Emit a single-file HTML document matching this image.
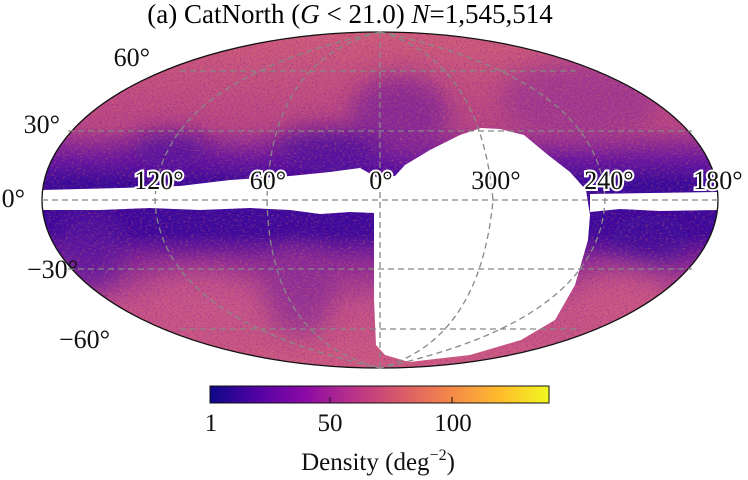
<!DOCTYPE html>
<html><head><meta charset="utf-8"><style>
html,body{margin:0;padding:0;background:#fff;}
svg{display:block;font-family:"Liberation Serif",serif;}
</style></head><body>
<svg width="748" height="480" viewBox="0 0 748 480" xmlns="http://www.w3.org/2000/svg">
<defs>
<clipPath id="ec"><ellipse cx="380" cy="200" rx="338" ry="168"/></clipPath>
<linearGradient id="vg" x1="0" y1="32" x2="0" y2="368" gradientUnits="userSpaceOnUse">
<stop offset="0" stop-color="#cf5c7c"/>
<stop offset="0.28" stop-color="#b84686"/>
<stop offset="0.38" stop-color="#6a18a0"/>
<stop offset="0.45" stop-color="#3a0a9a"/>
<stop offset="0.6" stop-color="#3f0a9c"/>
<stop offset="0.68" stop-color="#8a2a96"/>
<stop offset="0.82" stop-color="#c2518a"/>
<stop offset="1" stop-color="#cd5a82"/>
</linearGradient>
<linearGradient id="cb" x1="0" x2="1" y1="0" y2="0">
<stop offset="0" stop-color="#0d0887"/>
<stop offset="0.14" stop-color="#5302a3"/>
<stop offset="0.28" stop-color="#8b0aa5"/>
<stop offset="0.42" stop-color="#b83289"/>
<stop offset="0.57" stop-color="#db5c68"/>
<stop offset="0.71" stop-color="#f48849"/>
<stop offset="0.86" stop-color="#febd2a"/>
<stop offset="1" stop-color="#f0f921"/>
</linearGradient>
<filter id="nz" x="0" y="0" width="100%" height="100%" color-interpolation-filters="sRGB">
<feTurbulence type="fractalNoise" baseFrequency="0.35 0.6" numOctaves="2" seed="3"/>
<feColorMatrix type="matrix" values="0 0 0 0 0.96  0 0 0 0 0.45  0 0 0 0 0.35  2.5 0 0 0 -1.3"/>
</filter>
<filter id="nz2" x="0" y="0" width="100%" height="100%" color-interpolation-filters="sRGB">
<feTurbulence type="fractalNoise" baseFrequency="0.5 0.7" numOctaves="1" seed="9"/>
<feColorMatrix type="matrix" values="0 0 0 0 0.25  0 0 0 0 0.03  0 0 0 0 0.6  2.5 0 0 0 -1.3"/>
</filter>
<filter id="bl"><feGaussianBlur stdDeviation="12"/></filter>
</defs>

<text x="350" y="23" font-size="27" text-anchor="middle">(a) CatNorth (<tspan font-style="italic">G</tspan> &lt; 21.0)  <tspan font-style="italic">N</tspan>=1,545,514</text>

<g clip-path="url(#ec)">
<rect x="40" y="30" width="680" height="340" fill="url(#vg)"/>
<g filter="url(#bl)" opacity="0.75">
<ellipse cx="400" cy="115" rx="50" ry="40" fill="#7a2099"/>
<ellipse cx="580" cy="100" rx="80" ry="40" fill="#9a3593"/>
<ellipse cx="330" cy="150" rx="55" ry="22" fill="#4a0d9e"/>
<ellipse cx="170" cy="150" rx="40" ry="18" fill="#4e0f9e"/>
<ellipse cx="650" cy="240" rx="40" ry="25" fill="#3f0a9c"/>
<ellipse cx="90" cy="250" rx="35" ry="40" fill="#5a15a0"/>
<ellipse cx="300" cy="290" rx="35" ry="45" fill="#8a2d96"/>
<ellipse cx="200" cy="300" rx="60" ry="30" fill="#c9588a"/>
<ellipse cx="620" cy="300" rx="50" ry="30" fill="#cc5a86"/>
</g>
<rect x="40" y="30" width="680" height="340" filter="url(#nz)" opacity="0.45"/>
<rect x="40" y="30" width="680" height="340" filter="url(#nz2)" opacity="0.4"/>
<path d="M42 190 L120 188 L180 186 L230 180 L290 176 L330 172 L360 168 L378 178 L395 176 L405 165 L430 150 L460 135 L481 128 L500 129 L524 135 L548 155 L570 172 L586 190 L590 215 L588 240 L575 285 L555 320 L521 340 L470 355 L409 362 L385 355 L376 345 L374 300 L374 213 L350 212 L320 214 L290 210 L250 208 L200 210 L150 208 L100 210 L42 210 Z" fill="#fff"/>
<path d="M590 194 L718 192 L718 210 L660 211 L620 209 L590 212 Z" fill="#fff"/>
</g>
<ellipse cx="380" cy="200" rx="338" ry="168" fill="none" stroke="#111" stroke-width="1.3"/>

<g stroke="#888" stroke-width="1.3" stroke-dasharray="6,4" fill="none">
<line x1="42" y1="200" x2="718" y2="200"/>
<line x1="68" y1="131" x2="692" y2="131"/>
<line x1="68" y1="269" x2="692" y2="269"/>
<line x1="180" y1="71" x2="580" y2="71"/>
<line x1="180" y1="329" x2="580" y2="329"/>
<line x1="380" y1="32" x2="380" y2="368"/>
<path d="M380 32 Q480 60 493 200 Q480 340 380 368"/>
<path d="M380 32 Q270 60 267 200 Q270 340 380 368"/>
<path d="M380 32 Q600 80 605 200 Q600 320 380 368"/>
<path d="M380 32 Q160 80 155 200 Q160 320 380 368"/>
</g>

<g font-size="26" fill="#111">
<text x="150" y="66" text-anchor="end">60°</text>
<text x="60" y="133" text-anchor="end">30°</text>
<text x="25" y="207" text-anchor="end">0°</text>
<text x="78" y="278" text-anchor="end">−30°</text>
<text x="110" y="348" text-anchor="end">−60°</text>
</g>
<g font-size="26" fill="#111" stroke="#fff" stroke-width="4" paint-order="stroke" text-anchor="middle">
<text x="159" y="189">120°</text>
<text x="268" y="189">60°</text>
<text x="381" y="189">0°</text>
<text x="496" y="189">300°</text>
<text x="609" y="189">240°</text>
<text x="718" y="189">180°</text>
</g>

<rect x="210" y="386" width="339" height="17" fill="url(#cb)" stroke="#111" stroke-width="1"/>
<line x1="330" y1="397" x2="330" y2="403" stroke="#111"/>
<line x1="452" y1="397" x2="452" y2="403" stroke="#111"/>
<g font-size="25" fill="#111" text-anchor="middle">
<text x="211" y="431">1</text>
<text x="330" y="431">50</text>
<text x="453" y="431">100</text>
<text x="378" y="470">Density (deg<tspan font-size="16" dy="-10">−2</tspan><tspan dy="10">)</tspan></text>
</g>
</svg>
</body></html>
